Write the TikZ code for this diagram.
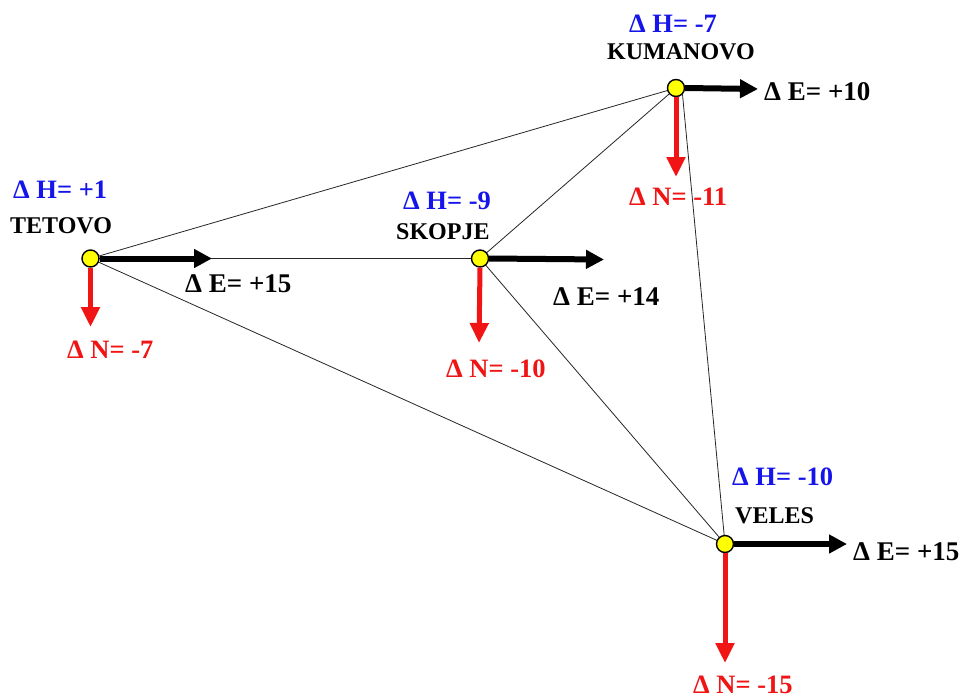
\documentclass[tikz,border=0pt]{standalone}
\usepackage{fontspec}
\setmainfont{Liberation Serif}
\usetikzlibrary{arrows.meta,backgrounds}
\definecolor{hblue}{RGB}{20,20,235}
\definecolor{nred}{RGB}{240,20,20}
\definecolor{stnfill}{RGB}{255,255,0}
\tikzset{
  station/.style={circle,draw=black,line width=1.4pt,fill=stnfill,minimum size=17pt,inner sep=0pt},
  side/.style={line width=0.8pt,draw=black!85},
  earrow/.style={line width=6pt,draw=black,-{Triangle[length=18pt,width=18pt]}},
  narrow/.style={line width=5pt,draw=nred,-{Triangle[length=20pt,width=18pt]}},
  hlab/.style={anchor=base west,inner sep=0pt,text=hblue,font=\fontsize{26.5}{30}\selectfont\bfseries},
  namelab/.style={anchor=base west,inner sep=0pt,text=black,font=\fontsize{24}{28}\selectfont\bfseries},
  elab/.style={anchor=base west,inner sep=0pt,text=black,font=\fontsize{27}{30}\selectfont\bfseries},
  nlab/.style={anchor=base west,inner sep=0pt,text=nred,font=\fontsize{26.5}{30}\selectfont\bfseries},
}
\begin{document}
\begin{tikzpicture}[x=1pt,y=-1pt]
\useasboundingbox (0,0) rectangle (961,697);

% stations
\node[station] (tet) at (90.5,258.5) {};
\node[station] (sko) at (480,258.5) {};
\node[station] (kum) at (676,88) {};
\node[station] (vel) at (725,544) {};

% white sheet and triangulation sides behind the stations
\begin{scope}[on background layer]
\fill[white] (0,0) rectangle (961,697);
\draw[side] (tet.center) -- (kum.center);
\draw[side] (tet.center) -- (sko.center);
\draw[side] (tet.center) -- (vel.center);
\draw[side] (sko.center) -- (kum.center);
\draw[side] (sko.center) -- (vel.center);
\draw[side] (kum.south east) -- (vel.center);
\end{scope}

% free ends of the displacement vectors
\coordinate (tetE) at (212,258.5);
\coordinate (tetN) at (90.5,327);
\coordinate (skoE) at (604,259.5);
\coordinate (skoN) at (479,343);
\coordinate (kumE) at (758,89);
\coordinate (kumN) at (676,177);
\coordinate (velE) at (847,544);
\coordinate (velN) at (725,663);

% displacement vectors
\draw[earrow] (tet.east) -- (tetE);
\draw[narrow] (tet.south) -- (tetN);
\draw[earrow] (sko.east) -- (skoE);
\draw[narrow] (sko.south) -- (skoN);
\draw[earrow] (kum.east) -- (kumE);
\draw[narrow] (kum.south) -- (kumN);
\draw[earrow] (vel.east) -- (velE);
\draw[narrow] (vel.south) -- (velN);

% Tetovo
\node[hlab] (tetH) at (13,198) {Δ H= +1};
\node[namelab] (tetName) at (10,233) {TETOVO};
\node[elab] (tetEl) at (185,292) {Δ E= +15};
\node[nlab] (tetNl) at (67,358) {Δ N= -7};

% Skopje
\node[hlab] (skoH) at (403,209) {Δ H= -9};
\node[namelab] (skoName) at (396,239) {SKOPJE};
\node[elab] (skoEl) at (553,305) {Δ E= +14};
\node[nlab] (skoNl) at (446,377) {Δ N= -10};

% Kumanovo
\node[hlab] (kumH) at (629,32) {Δ H= -7};
\node[namelab] (kumName) at (607,59) {KUMANOVO};
\node[elab] (kumEl) at (764,100) {Δ E= +10};
\node[nlab] (kumNl) at (629,205) {Δ N= -11};

% Veles
\node[hlab] (velH) at (732,485) {Δ H= -10};
\node[namelab] (velName) at (735,523) {VELES};
\node[elab] (velEl) at (853,560) {Δ E= +15};
\node[nlab] (velNl) at (693,693) {Δ N= -15};
\end{tikzpicture}
\end{document}
